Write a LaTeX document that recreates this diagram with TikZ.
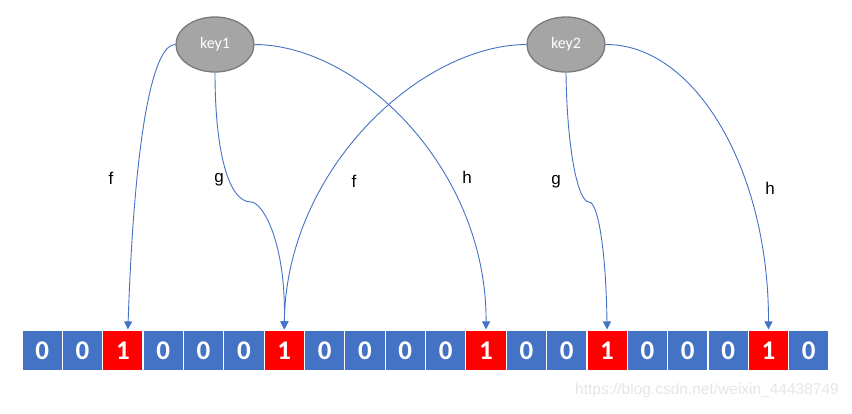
\documentclass[tikz,border=0pt]{standalone}
\usepackage{fontspec}
\setmainfont{Carlito}
\newfontfamily\arialf{Liberation Sans}
\usetikzlibrary{shapes.geometric,arrows.meta}
\definecolor{cblue}{HTML}{4472C4}
\definecolor{cred}{HTML}{FF0000}
\definecolor{kfill}{HTML}{A5A5A5}
\definecolor{kdraw}{HTML}{7A7A7A}
\definecolor{wmark}{HTML}{E6E6E6}
\tikzset{
  cell/.style={rectangle, draw=white, line width=1.2pt, minimum width=40.35pt, minimum height=41pt, inner sep=0pt,
    text=white, font=\fontsize{27}{27}\selectfont\bfseries},
  zero/.style={cell, fill=cblue},
  one/.style={cell, fill=cred},
  keynode/.style={ellipse, fill=kfill, draw=kdraw, line width=1.3pt, minimum width=78pt, minimum height=55pt,
    inner sep=0pt, text=white, font=\fontsize{16}{16}\selectfont},
  link/.style={draw=cblue, line width=0.9pt, -{Triangle[width=8pt,length=8pt]}},
  lbl/.style={font=\arialf\fontsize{17}{17}\selectfont, text=black, inner sep=0pt},
}
\begin{document}
\begin{tikzpicture}[x=1pt,y=-1pt]
\useasboundingbox (0,0) rectangle (852,413);
\fill[white] (0,0) rectangle (852,413);
% array
\foreach \v [count=\j from 0] in {0,0,1,0,0,0,1,0,0,0,0,1,0,0,1,0,0,0,1,0}{
  \ifnum\v=1
    \node[one] (c\j) at (22+40.35*\j+20.175, 350.5) {\v};
  \else
    \node[zero] (c\j) at (22+40.35*\j+20.175, 350.5) {\v};
  \fi
}
% keys
\node[keynode] (k1) at (215,44.5) {key1};
\node[keynode] (k2) at (566,44.5) {key2};
% links from key1
\draw[link] (k1.west) .. controls (155,44) and (135,120) .. ([xshift=5pt]c2.north);
\draw[link] (k1.south) .. controls (215,150) and (228,202) .. (251,202)
  .. controls (262,202) and (286,240) .. (c6.north);
\draw[link] (k1.east) .. controls (360,45) and (487,170) .. (c11.north);
% links from key2
\draw[link] (k2.west) .. controls (420,45) and (286,170) .. (c6.north);
\draw[link] (k2.south) .. controls (567,150) and (578,202) .. (589,202)
  .. controls (598,202) and (606,250) .. (c14.north);
\draw[link] (k2.east) .. controls (695,44) and (769,170) .. (c18.north);
% labels
\node[lbl] (lf1) at (111,178) {f};
\node[lbl] (lg1) at (219,180) {g};
\node[lbl] (lf2) at (354,181) {f};
\node[lbl] (lh1) at (467,177) {h};
\node[lbl] (lg2) at (556,182) {g};
\node[lbl] (lh2) at (770,188) {h};
% watermark
\node[font=\arialf\fontsize{15.5}{15.5}\selectfont, text=wmark, inner sep=0pt] (wm) at (707,390) {https://blog.csdn.net/weixin\_44438749};
\end{tikzpicture}
\end{document}
